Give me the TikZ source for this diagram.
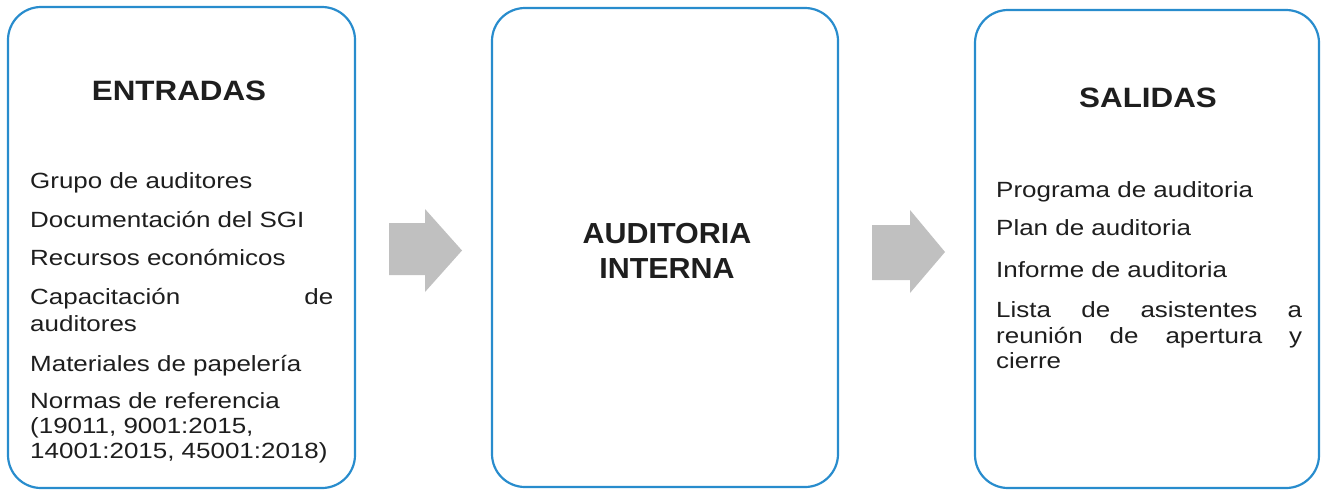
\documentclass[tikz,border=0pt]{standalone}
\usepackage{fontspec}
\setmainfont{Liberation Sans}
\newfontfamily\bodyf{Liberation Sans}[FakeStretch=1.18]
\newfontfamily\titf{Liberation Sans}[FakeStretch=1.12]
\newfontfamily\midf{Liberation Sans}[FakeStretch=1.05]
\definecolor{boxblue}{RGB}{40,140,205}
\definecolor{arrgray}{RGB}{192,192,192}
\definecolor{txt}{RGB}{30,30,30}
\begin{document}
\begin{tikzpicture}[x=1pt,y=-1pt,
  panel/.style={draw=boxblue,line width=2.2pt,rounded corners=33pt,fill=white},
  ttl/.style={font=\titf\fontsize{28}{30}\selectfont\bfseries,text=txt,inner sep=0pt,anchor=base},
  mid/.style={font=\midf\fontsize{29}{33}\selectfont\bfseries,text=txt,inner sep=0pt,anchor=base},
  itm/.style={font=\bodyf\fontsize{22}{26}\selectfont,text=txt,inner sep=0pt,anchor=base west},
  blockarrow/.style={fill=arrgray,draw=none}]
\useasboundingbox (0,0) rectangle (1321,491);
% panels
\draw[panel] (8,7) rectangle (355,488);
\draw[panel] (492,8) rectangle (838,487);
\draw[panel] (975,10) rectangle (1319,488);
% arrows
\fill[blockarrow] (389,223) -- (425,223) -- (425,209) -- (462,250.5) -- (425,292) -- (425,275) -- (389,275) -- cycle;
\fill[blockarrow] (872,225) -- (910,225) -- (910,210) -- (945,252) -- (910,293) -- (910,280) -- (872,280) -- cycle;
% ENTRADAS
\node[ttl] (t1) at (179,100) {ENTRADAS};
\node[itm] (e1) at (30,188) {Grupo de auditores};
\node[itm] (e2) at (30,227) {Documentación del SGI};
\node[itm] (e3) at (30,265) {Recursos económicos};
\node[itm] (e4) at (30,304) {\makebox[303pt][s]{Capacitación de}};
\node[itm] (e5) at (30,331) {auditores};
\node[itm] (e6) at (30,371) {Materiales de papelería};
\node[itm] (e7) at (30,408) {Normas de referencia};
\node[itm] (e8) at (30,433) {(19011, 9001:2015,};
\node[itm] (e9) at (30,458) {14001:2015, 45001:2018)};
% AUDITORIA
\node[mid] (m1) at (667,243) {AUDITORIA};
\node[mid] (m2) at (667,278) {INTERNA};
% SALIDAS
\node[ttl] (t3) at (1148,107) {SALIDAS};
\node[itm] (s1) at (996,197) {Programa de auditoria};
\node[itm] (s2) at (996,235) {Plan de auditoria};
\node[itm] (s3) at (996,277) {Informe de auditoria};
\node[itm] (s4) at (996,317) {\makebox[306pt][s]{Lista de asistentes a}};
\node[itm] (s5) at (996,343) {\makebox[306pt][s]{reunión de apertura y}};
\node[itm] (s6) at (996,368) {cierre};
\end{tikzpicture}
\end{document}
